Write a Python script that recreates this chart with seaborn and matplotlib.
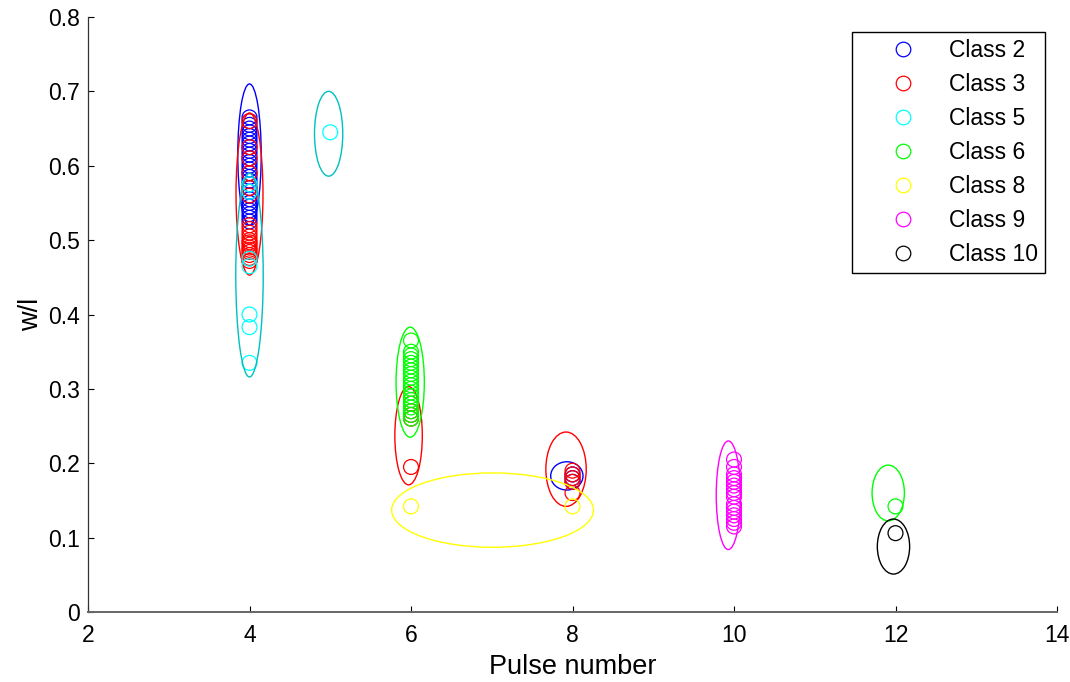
import numpy as np
import pandas as pd
import matplotlib
matplotlib.use("Agg")
import matplotlib.pyplot as plt
from matplotlib.patches import Ellipse
from matplotlib.lines import Line2D
import seaborn as sns

# ---------------- data ----------------
class_names = ["Class 2", "Class 3", "Class 5", "Class 6", "Class 8", "Class 9", "Class 10"]
class_colors = ["#0000ff", "#ff0000", "#00ffff", "#00ff00", "#ffff00", "#ff00ff", "#000000"]
ellipse_colors = ["#0000ff", "#ff0000", "#00bfbf", "#00ff00", "#ffff00", "#ff00ff", "#000000"]

c2_x = [4] * 29 + [8] * 3
c2_y = [0.665, 0.66, 0.655, 0.65, 0.645, 0.64, 0.635, 0.63, 0.625, 0.62, 0.615, 0.61,
        0.605, 0.60, 0.595, 0.59, 0.585, 0.58, 0.575, 0.57, 0.565, 0.56, 0.555, 0.55,
        0.545, 0.54, 0.535, 0.53, 0.525,
        0.185, 0.18, 0.175]

c3_x = [4] * 19 + [6] * 5 + [8] * 5
c3_y = [0.66, 0.625, 0.61, 0.59, 0.57, 0.56, 0.52, 0.515, 0.51, 0.505, 0.50, 0.497,
        0.494, 0.49, 0.487, 0.484, 0.48, 0.476, 0.472,
        0.195, 0.26, 0.265, 0.27, 0.28,
        0.19, 0.185, 0.18, 0.175, 0.16]

c5_x = [4] * 7 + [5]
c5_y = [0.575, 0.565, 0.475, 0.465, 0.40, 0.383, 0.335, 0.645]

c6_x = [6] * 20 + [12]
c6_y = [0.365, 0.35, 0.345, 0.34, 0.335, 0.33, 0.325, 0.32, 0.315, 0.31, 0.305, 0.30,
        0.295, 0.29, 0.285, 0.28, 0.275, 0.27, 0.265, 0.26,
        0.142]

c8_x = [6, 8]
c8_y = [0.142, 0.142]

c9_x = [10] * 16
c9_y = [0.205, 0.195, 0.185, 0.18, 0.175, 0.17, 0.165, 0.16, 0.155, 0.145, 0.14,
        0.135, 0.13, 0.125, 0.12, 0.115]

c10_x = [12]
c10_y = [0.106]

class_x = [c2_x, c3_x, c5_x, c6_x, c8_x, c9_x, c10_x]
class_y = [c2_y, c3_y, c5_y, c6_y, c8_y, c9_y, c10_y]

# ellipse per class: centre x, centre y, half-width (x units), half-height (y units)
ell_class = [0, 0, 1, 1, 1, 2, 2, 3, 3, 4, 5, 6]
ell_cx = [4.0, 7.93, 4.0, 5.97, 7.92, 4.0, 4.98, 5.99, 11.91, 7.01, 9.93, 11.975]
ell_cy = [0.615, 0.183, 0.562, 0.237, 0.192, 0.453, 0.643, 0.309, 0.160, 0.137, 0.157, 0.088]
ell_hw = [0.145, 0.20, 0.167, 0.17, 0.25, 0.17, 0.175, 0.175, 0.20, 1.25, 0.15, 0.20]
ell_hh = [0.095, 0.019, 0.109, 0.066, 0.050, 0.137, 0.057, 0.074, 0.0375, 0.050, 0.073, 0.037]

x_ticks = [2, 4, 6, 8, 10, 12, 14]
y_ticks = [0, 0.1, 0.2, 0.3, 0.4, 0.5, 0.6, 0.7, 0.8]
y_tick_labels = ["0", "0.1", "0.2", "0.3", "0.4", "0.5", "0.6", "0.7", "0.8"]

# ---------------- plot ----------------
sns.set_style("white")
plt.rcParams["font.family"] = ["Liberation Sans", "DejaVu Sans"]
plt.rcParams["text.color"] = "black"
plt.rcParams["axes.labelcolor"] = "black"
plt.rcParams["xtick.color"] = "black"
plt.rcParams["ytick.color"] = "black"

fig = plt.figure(figsize=(10.70, 6.82), dpi=100)
ax = fig.add_axes([88 / 1070, 1 - 612 / 682, 969 / 1070, 595 / 682])

frames = []
for i, name in enumerate(class_names):
    frames.append(pd.DataFrame({"pulse": class_x[i], "wl": class_y[i], "cls": name}))
df = pd.concat(frames, ignore_index=True)

for i, name in enumerate(class_names):
    sub = df[df["cls"] == name]
    n_before = len(ax.collections)
    sns.scatterplot(data=sub, x="pulse", y="wl", ax=ax, marker="o", s=115,
                    color=class_colors[i], linewidth=0.9, legend=False, zorder=3 + i)
    coll = ax.collections[n_before]
    coll.set_facecolor("none")
    coll.set_edgecolor(class_colors[i])
    coll.set_linewidth(0.9)
    for k, c in enumerate(ell_class):
        if c == i:
            e = Ellipse((ell_cx[k], ell_cy[k]), 2 * ell_hw[k], 2 * ell_hh[k],
                        fill=False, edgecolor=ellipse_colors[i], linewidth=1.0,
                        zorder=3 + i)
            ax.add_patch(e)

ax.set_xlim(2, 14)
ax.set_ylim(0, 0.8)
ax.set_xticks(x_ticks)
ax.set_yticks(y_ticks)
ax.set_yticklabels(y_tick_labels)
ax.tick_params(axis="both", direction="in", length=4, width=0.8, labelsize=16.5,
               color="black", bottom=True, left=True, top=False, right=False)
ax.tick_params(axis="x", pad=9)
ax.tick_params(axis="y", pad=6)
ax.set_xlabel("Pulse number", fontsize=19.5, labelpad=5)
ax.set_ylabel("w/l", fontsize=19.5)
ax.yaxis.set_label_coords(-44 / 969, 0.5)

for side in ["top", "right"]:
    ax.spines[side].set_visible(False)
ax.spines["left"].set_color("#333333")
ax.spines["bottom"].set_color("#666666")
ax.spines["left"].set_linewidth(0.9)
ax.spines["bottom"].set_linewidth(1.4)

handles = [Line2D([], [], linestyle="none", marker="o", markersize=10.5,
                  markerfacecolor="none", markeredgecolor=c, markeredgewidth=0.9)
           for c in class_colors]
leg = fig.legend(handles, class_names, loc="upper right",
                 bbox_to_anchor=(1045 / 1070, 1 - 32 / 682), fontsize=16.5,
                 frameon=True, fancybox=False, framealpha=1, edgecolor="black",
                 borderpad=0.29, labelspacing=0.485, handlelength=3.88,
                 handletextpad=0.07, borderaxespad=0.0)
leg.get_frame().set_linewidth(1.0)

fig.savefig("out.png", dpi=100)
